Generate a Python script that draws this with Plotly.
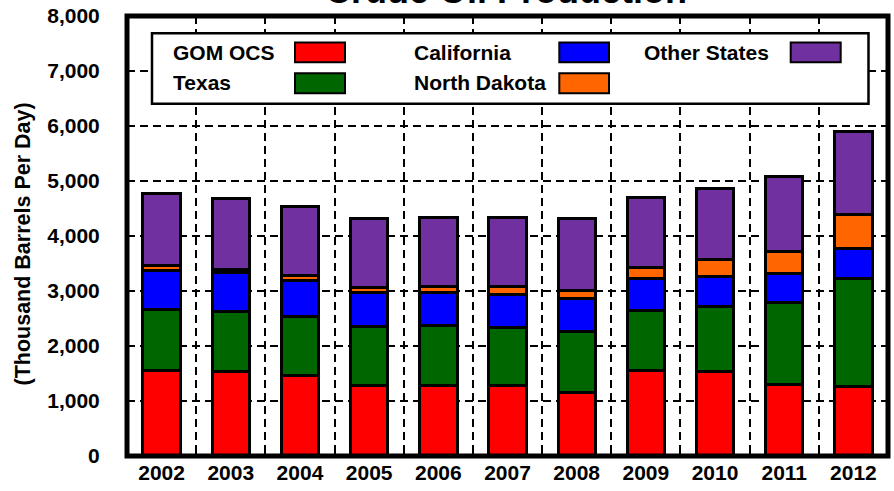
import plotly.graph_objects as go

# ---- data (thousand barrels per day) ----
years = [2002, 2003, 2004, 2005, 2006, 2007, 2008, 2009, 2010, 2011, 2012]
gom_ocs = [1550, 1530, 1460, 1280, 1290, 1280, 1150, 1550, 1535, 1305, 1260]
texas = [1115, 1105, 1075, 1070, 1075, 1060, 1110, 1090, 1180, 1485, 1965]
california = [715, 700, 655, 630, 610, 605, 595, 580, 545, 520, 540]
north_dakota = [75, 60, 85, 85, 105, 130, 150, 205, 315, 410, 635]
other_states = [1310, 1285, 1255, 1255, 1265, 1270, 1310, 1275, 1290, 1355, 1500]

series_names = ["GOM OCS", "Texas", "California", "North Dakota", "Other States"]
series_values = [gom_ocs, texas, california, north_dakota, other_states]
series_colors = ["#FF0000", "#006600", "#0000FF", "#FF6600", "#7030A0"]

y_ticks = [0, 1000, 2000, 3000, 4000, 5000, 6000, 7000, 8000]

# ---- figure geometry (pixels) ----
FIG_W, FIG_H = 894, 491
ML, MR, MT, MB = 127, 6, 16, 35
PW, PH = FIG_W - ML - MR, FIG_H - MT - MB
FONT = "Liberation Sans, Arial, sans-serif"


def px(xp):
    return (xp - ML) / PW


def py(yp):
    return (FIG_H - MB - yp) / PH


fig = go.Figure()
for name, vals, col in zip(series_names, series_values, series_colors):
    fig.add_trace(go.Bar(
        x=years, y=vals, name=name, width=0.54,
        marker=dict(color=col, line=dict(color="black", width=3)),
        showlegend=False, hoverinfo="skip",
    ))

fig.update_layout(
    barmode="stack",
    width=FIG_W, height=FIG_H,
    margin=dict(l=ML, r=MR, t=MT, b=MB, autoexpand=False),
    paper_bgcolor="white", plot_bgcolor="white",
    font=dict(family=FONT, color="black", size=21, weight="bold"),
    xaxis=dict(
        range=[years[0] - 0.5, years[-1] + 0.5],
        tickmode="array", tickvals=years, ticktext=[str(y) for y in years],
        showgrid=False, zeroline=False, ticks="",
        showline=True, linewidth=1, linecolor="black", mirror="ticks",
        tickfont=dict(family=FONT, size=21, color="black", weight="bold"),
        ticklabelstandoff=-2,
        minor=dict(
            tickmode="array",
            tickvals=[y + 0.5 for y in years[:-1]],
            showgrid=True, gridcolor="black", gridwidth=2, griddash="8px,5px",
            ticks="inside", ticklen=7, tickwidth=2, tickcolor="black",
        ),
        fixedrange=True,
    ),
    yaxis=dict(
        range=[0, 8000],
        tickmode="array", tickvals=y_ticks, tickformat=",",
        showgrid=True, gridcolor="black", gridwidth=2, griddash="8px,5px",
        zeroline=False,
        ticks="inside", ticklen=7, tickwidth=2, tickcolor="black",
        showline=True, linewidth=1, linecolor="black", mirror="ticks",
        tickfont=dict(family=FONT, size=21, color="black", weight="bold"),
        ticklabelstandoff=22,
        fixedrange=True,
    ),
)

shapes = []
annotations = []

# plot frame
shapes.append(dict(type="rect", xref="paper", yref="paper", x0=0, x1=1, y0=0, y1=1,
                   line=dict(color="black", width=5), fillcolor="rgba(0,0,0,0)", layer="above"))

# legend box
shapes.append(dict(type="rect", xref="paper", yref="paper",
                   x0=px(152), x1=px(868.5), y0=py(103.8), y1=py(33.3),
                   line=dict(color="black", width=2.5), fillcolor="white", layer="above"))

legend_items = [
    # name, text x, row center y, swatch x0, x1, y0, y1
    ("GOM OCS", 171, 52.5, 295, 345, 42.5, 62.3),
    ("Texas", 171, 82.5, 295, 345, 73.3, 93.3),
    ("California", 412, 52.5, 559.3, 609, 42.5, 62.3),
    ("North Dakota", 412, 82.5, 559.3, 609, 73.3, 93.3),
    ("Other States", 642, 52.5, 790.7, 840.7, 42.5, 62.3),
]
for name, tx, ty, sx0, sx1, sy0, sy1 in legend_items:
    col = series_colors[series_names.index(name)]
    annotations.append(dict(text=name, xref="paper", yref="paper", x=px(tx), y=py(ty),
                            xanchor="left", yanchor="middle", showarrow=False,
                            font=dict(family=FONT, size=21, color="black", weight="bold")))
    shapes.append(dict(type="rect", xref="paper", yref="paper",
                       x0=px(sx0), x1=px(sx1), y0=py(sy1), y1=py(sy0),
                       line=dict(color="black", width=2), fillcolor=col, layer="above"))

# title (cropped at top in the reference)
annotations.append(dict(text="Crude Oil Production", xref="paper", yref="paper",
                        x=px(506), y=py(13), xanchor="center", yanchor="bottom",
                        showarrow=False,
                        font=dict(family=FONT, size=36, color="black", weight="bold")))

# y axis title
annotations.append(dict(text="(Thousand Barrels Per Day)", xref="paper", yref="paper",
                        x=px(22.5), y=py(244), xanchor="center", yanchor="middle",
                        textangle=-90, showarrow=False,
                        font=dict(family=FONT, size=21.5, color="black", weight="bold")))

fig.update_layout(shapes=shapes, annotations=annotations)

fig.write_html(
    "out.html",
    config={"displayModeBar": False, "staticPlot": True},
    post_script="document.body.style.margin='0';document.body.style.overflow='hidden';",
)
